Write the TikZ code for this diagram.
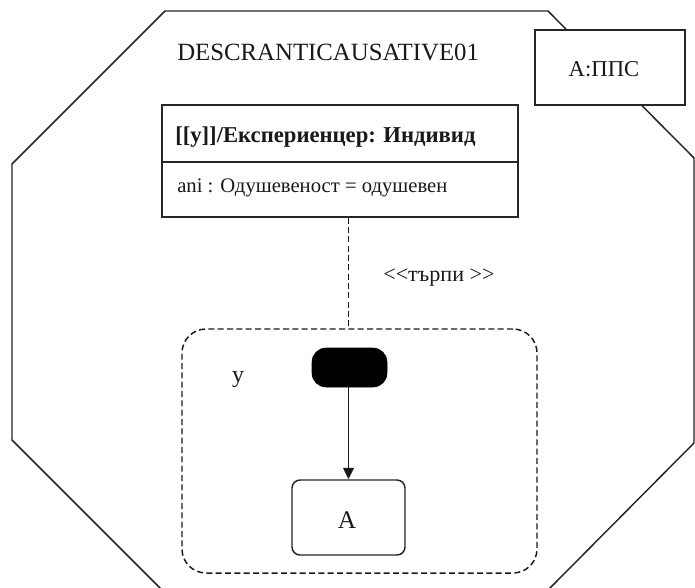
\documentclass[tikz,border=0pt]{standalone}
\usepackage{fontspec}
\setmainfont{Liberation Serif}
\usetikzlibrary{arrows.meta}
\newcommand{\fsz}[1]{\fontsize{#1}{#1}\selectfont}
\begin{document}
\begin{tikzpicture}[x=0.75pt,y=-0.75pt,
  frame/.style={draw=black!85,line width=1.1pt},
  box/.style={draw=black!85,line width=1.1pt,fill=white,inner sep=0pt},
  dashline/.style={draw=black!90,line width=1.1pt,dash pattern=on 4.5pt off 2.5pt},
  region/.style={dashline,rounded corners=18pt,inner sep=0pt},
  lbl/.style={inner sep=0pt,text=black!90},
  flow/.style={draw=black!90,line width=1pt,-{Triangle[length=8.5pt,width=8pt]}}]
\useasboundingbox (0,0) rectangle (695,587);
\fill[white] (0,0) rectangle (695,587);

% package outline (octagon)
\draw[frame] (165,11) -- (548,11) -- (694,158) -- (694,443) -- (548,590)
  -- (162,590) -- (12,440) -- (12,164) -- cycle;
\node[lbl,anchor=west] (pkgname) at (177,52) {\fsz{18.6pt}DESCRANTICAUSATIVE01};

% role instance box
\node[box,minimum width=112.5pt,minimum height=56.25pt] (pps) at (610,67.5) {};
\node[lbl] (ppsname) at (604,69) {\fsz{17pt}A:ППС};

% class box with attribute compartment
\node[box,minimum width=267pt,minimum height=84pt] (cls) at (340,161) {};
\coordinate (sep) at (0,162);
\draw[frame] (cls.west |- sep) -- (cls.east |- sep);
\node[lbl,anchor=west] (clsname) at (175,137) {\fsz{17pt}\bfseries [[y]]/Експериенцер: Индивид};
\node[lbl,anchor=west] (clsattr) at (177,188) {\fsz{15.5pt}ani : Одушевеност = одушевен};

% state region
\node[region,minimum width=266.25pt,minimum height=183pt] (reg) at (359.5,451) {};
\node[lbl] (regname) at (238,380) {\fsz{18pt}y};

% initial pseudo-state and state A
\node[fill=black,draw=black,rounded corners=10.5pt,minimum width=56.25pt,minimum height=29.25pt,inner sep=0pt] (init) at (349.5,367.5) {};
\node[box,rounded corners=6pt,minimum width=84.75pt,minimum height=56.25pt] (stA) at (348.5,517.5) {};
\node[lbl] (stAname) at (347,520) {\fsz{19pt}A};
\draw[flow] (init.south -| stA.north) -- (stA.north);

% dependency between class and region
\draw[dashline] (cls.south -| stA.north) -- (reg.north -| stA.north);
\node[lbl,anchor=west] (dep) at (383,278) {\fsz{16.6pt}<\kern0pt<търпи >\kern0pt>};
\end{tikzpicture}
\end{document}
